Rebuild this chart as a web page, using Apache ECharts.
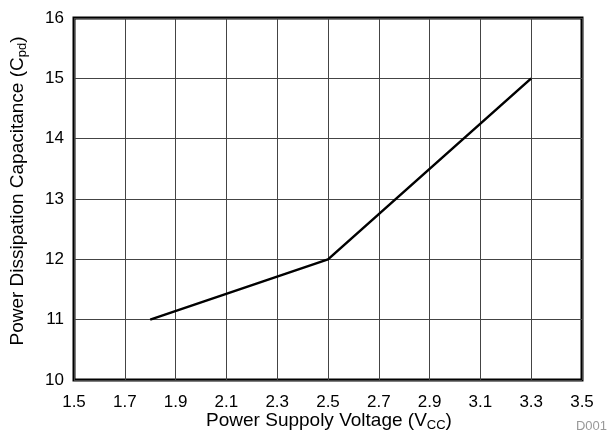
<!DOCTYPE html>
<html><head><meta charset="utf-8">
<script src="https://cdn.jsdelivr.net/npm/echarts@6/dist/echarts.min.js"></script>
<style>html,body{margin:0;padding:0;background:#fff}#c{width:609px;height:438px}</style>
</head><body><div id="c"></div>
<script>
const xValues = [1.8, 2.5, 3.3];
const yValues = [11, 12, 15];
const xTicks = [1.5, 1.7, 1.9, 2.1, 2.3, 2.5, 2.7, 2.9, 3.1, 3.3, 3.5];
const yTicks = [10, 11, 12, 13, 14, 15, 16];
const FONT = '"Liberation Sans", Arial, sans-serif';

const chart = echarts.init(document.getElementById('c'), null, {renderer: 'canvas'});
chart.setOption({
  animation: false,
  backgroundColor: '#fff',
  grid: {left: 74, right: 27, top: 18, bottom: 58, show: true, borderColor: '#000', borderWidth: 3, backgroundColor: 'transparent'},
  xAxis: {
    type: 'value', min: 1.5, max: 3.5,
    axisLine: {show: false}, axisTick: {show: false, customValues: xTicks},
    axisLabel: {customValues: xTicks, color: '#000', fontSize: 17, fontFamily: FONT, margin: 14,
      formatter: v => v.toFixed(1)},
    splitLine: {show: true, lineStyle: {color: '#444', width: 1}}
  },
  yAxis: {
    type: 'value', min: 10, max: 16, interval: 1,
    axisLine: {show: false}, axisTick: {show: false, customValues: yTicks},
    axisLabel: {customValues: yTicks, color: '#000', fontSize: 17, fontFamily: FONT, margin: 10},
    splitLine: {show: true, lineStyle: {color: '#444', width: 1}}
  },
  series: [{
    type: 'line', data: xValues.map((x, i) => [x, yValues[i]]),
    showSymbol: false, symbol: 'none',
    lineStyle: {color: '#000', width: 2.5}
  }],
  graphic: [
    {type: 'text', x: 329, y: 421, style: {
      text: 'Power Suppoly Voltage (V{s|CC})', fill: '#000', font: '19px ' + FONT,
      align: 'center', verticalAlign: 'middle',
      rich: {s: {fontSize: 13, fontFamily: FONT, fill: '#000', padding: [9, 0, 0, 0]}}
    }},
    {type: 'text', x: 18, y: 191, rotation: Math.PI / 2, style: {
      text: 'Power Dissipation Capacitance (C{s|pd})', fill: '#000', font: '19px ' + FONT,
      align: 'center', verticalAlign: 'middle',
      rich: {s: {fontSize: 13, fontFamily: FONT, fill: '#000', padding: [9, 0, 0, 0]}}
    }},
    {type: 'text', right: 2, top: 420, style: {text: 'D001', fill: '#999', font: '13px ' + FONT}}
  ]
});
</script></body></html>
